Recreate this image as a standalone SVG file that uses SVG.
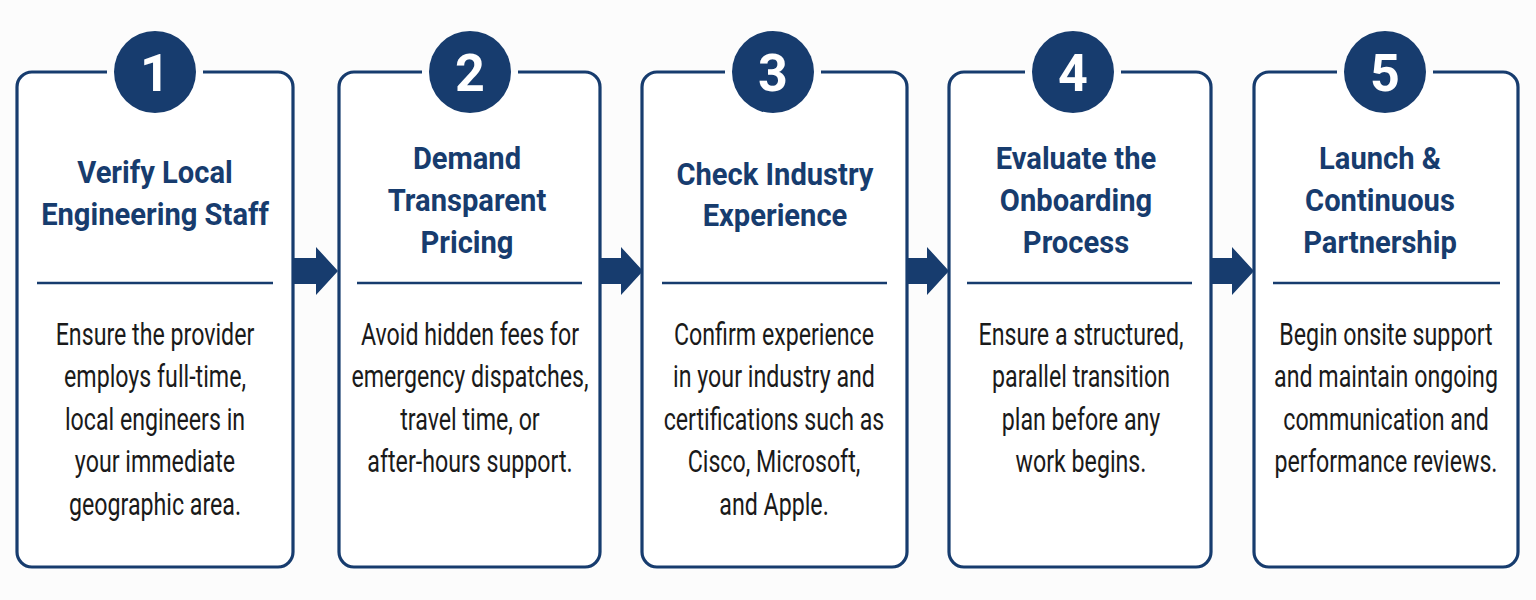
<svg xmlns="http://www.w3.org/2000/svg" width="1536" height="600" viewBox="0 0 1536 600">
<style>
.card{fill:#ffffff;stroke:none}
.border{fill:none;stroke:#173c6e;stroke-width:3.2}
.num{fill:#173c6e}
.numt{fill:#ffffff;font-family:Roboto,"Liberation Sans",sans-serif;font-weight:700;font-size:52px;text-anchor:middle}
.title{fill:#173c6e;font-family:Roboto,"Liberation Sans",sans-serif;font-weight:700;font-size:31px;text-anchor:middle}
.body{fill:#1a1a1a;font-family:Roboto,"Liberation Sans",sans-serif;font-weight:400;font-size:32px;text-anchor:middle}
.div{stroke:#173c6e;stroke-width:2.5}
.arrow{fill:#173c6e}
</style>
<rect width="1536" height="600" fill="#fcfcfc"/>

<g id="card1">
<rect class="card" x="17" y="72" width="276" height="495" rx="15"/>
<path class="border" d="M203,72 H278 A15,15 0 0 1 293,87 V552 A15,15 0 0 1 278,567 H32 A15,15 0 0 1 17,552 V87 A15,15 0 0 1 32,72 H107"/>
<circle class="num" cx="155" cy="72" r="41"/>
<text class="numt" x="155" y="91">1</text>
<g transform="translate(155,0) scale(0.94,1)"><text class="title" x="0" y="183">Verify Local</text><text class="title" x="0" y="225">Engineering Staff</text></g>
<line class="div" x1="37" y1="283" x2="273" y2="283"/>
<g transform="translate(155,0) scale(0.725,1)"><text class="body" x="0" y="345">Ensure the provider</text><text class="body" x="0" y="387.5">employs full-time,</text><text class="body" x="0" y="430">local engineers in</text><text class="body" x="0" y="472.5">your immediate</text><text class="body" x="0" y="515">geographic area.</text></g>
</g>

<g id="card2">
<rect class="card" x="339" y="72" width="261" height="495" rx="15"/>
<path class="border" d="M518,72 H585 A15,15 0 0 1 600,87 V552 A15,15 0 0 1 585,567 H354 A15,15 0 0 1 339,552 V87 A15,15 0 0 1 354,72 H422"/>
<circle class="num" cx="470" cy="72" r="41"/>
<text class="numt" x="470" y="91">2</text>
<g transform="translate(467,0) scale(0.94,1)"><text class="title" x="0" y="169">Demand</text><text class="title" x="0" y="211">Transparent</text><text class="title" x="0" y="253">Pricing</text></g>
<line class="div" x1="357" y1="283" x2="582" y2="283"/>
<g transform="translate(470,0) scale(0.725,1)"><text class="body" x="0" y="345">Avoid hidden fees for</text><text class="body" x="0" y="387.5">emergency dispatches,</text><text class="body" x="0" y="430">travel time, or</text><text class="body" x="0" y="472.5">after-hours support.</text></g>
</g>

<g id="card3">
<rect class="card" x="642" y="72" width="265" height="495" rx="15"/>
<path class="border" d="M821,72 H892 A15,15 0 0 1 907,87 V552 A15,15 0 0 1 892,567 H657 A15,15 0 0 1 642,552 V87 A15,15 0 0 1 657,72 H725"/>
<circle class="num" cx="773" cy="72" r="41"/>
<text class="numt" x="773" y="91">3</text>
<g transform="translate(775,0) scale(0.94,1)"><text class="title" x="0" y="185">Check Industry</text><text class="title" x="0" y="226">Experience</text></g>
<line class="div" x1="662" y1="283" x2="887" y2="283"/>
<g transform="translate(774,0) scale(0.725,1)"><text class="body" x="0" y="345">Confirm experience</text><text class="body" x="0" y="387.5">in your industry and</text><text class="body" x="0" y="430">certifications such as</text><text class="body" x="0" y="472.5">Cisco, Microsoft,</text><text class="body" x="0" y="515">and Apple.</text></g>
</g>

<g id="card4">
<rect class="card" x="949" y="72" width="262" height="495" rx="15"/>
<path class="border" d="M1121,72 H1196 A15,15 0 0 1 1211,87 V552 A15,15 0 0 1 1196,567 H964 A15,15 0 0 1 949,552 V87 A15,15 0 0 1 964,72 H1025"/>
<circle class="num" cx="1073" cy="72" r="41"/>
<text class="numt" x="1073" y="91">4</text>
<g transform="translate(1076,0) scale(0.94,1)"><text class="title" x="0" y="169">Evaluate the</text><text class="title" x="0" y="211">Onboarding</text><text class="title" x="0" y="253">Process</text></g>
<line class="div" x1="967" y1="283" x2="1192" y2="283"/>
<g transform="translate(1081,0) scale(0.725,1)"><text class="body" x="0" y="345">Ensure a structured,</text><text class="body" x="0" y="387.5">parallel transition</text><text class="body" x="0" y="430">plan before any</text><text class="body" x="0" y="472.5">work begins.</text></g>
</g>

<g id="card5">
<rect class="card" x="1254" y="72" width="264" height="495" rx="15"/>
<path class="border" d="M1433,72 H1503 A15,15 0 0 1 1518,87 V552 A15,15 0 0 1 1503,567 H1269 A15,15 0 0 1 1254,552 V87 A15,15 0 0 1 1269,72 H1337"/>
<circle class="num" cx="1385" cy="72" r="41"/>
<text class="numt" x="1385" y="91">5</text>
<g transform="translate(1380,0) scale(0.94,1)"><text class="title" x="0" y="169">Launch &amp;</text><text class="title" x="0" y="211">Continuous</text><text class="title" x="0" y="253">Partnership</text></g>
<line class="div" x1="1273" y1="283" x2="1500" y2="283"/>
<g transform="translate(1386,0) scale(0.725,1)"><text class="body" x="0" y="345">Begin onsite support</text><text class="body" x="0" y="387.5">and maintain ongoing</text><text class="body" x="0" y="430">communication and</text><text class="body" x="0" y="472.5">performance reviews.</text></g>
</g>

<g id="connectors">
<polygon class="arrow" points="293,258 316,258 316,247 338,271 316,295 316,284 293,284"/>
<polygon class="arrow" points="600,258 621,258 621,247 643,271 621,295 621,284 600,284"/>
<polygon class="arrow" points="907,258 927,258 927,247 949,271 927,295 927,284 907,284"/>
<polygon class="arrow" points="1211,258 1232,258 1232,247 1254,271 1232,295 1232,284 1211,284"/>
</g>
</svg>
